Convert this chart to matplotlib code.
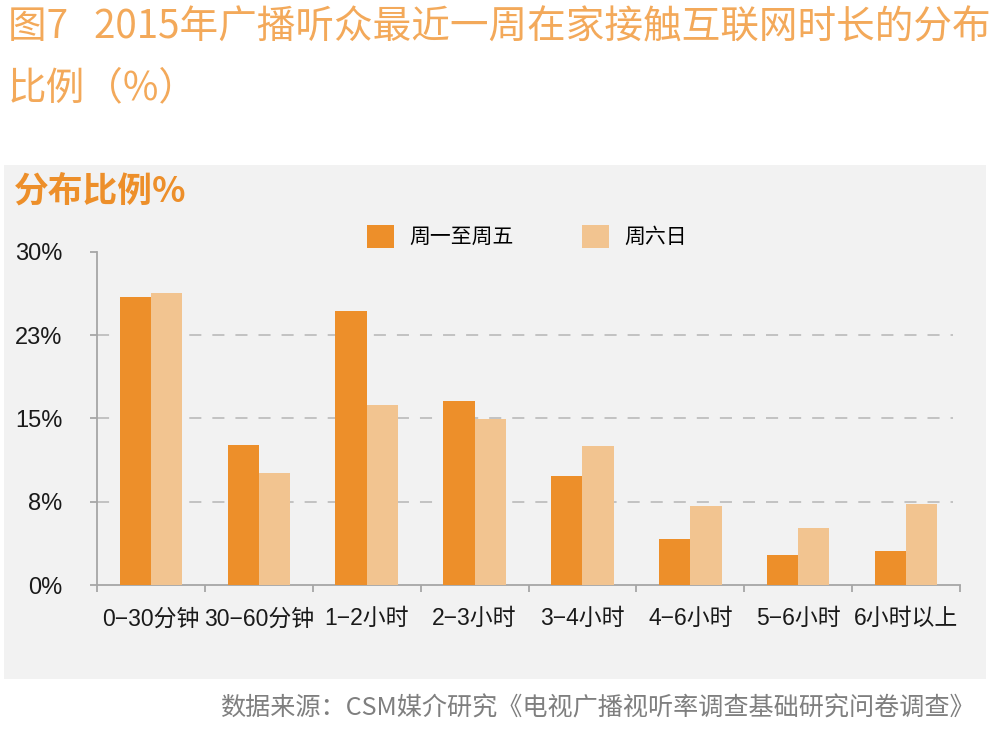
import matplotlib
matplotlib.use("Agg")
import matplotlib.pyplot as plt
from matplotlib.patches import Rectangle
import numpy as np

plt.rcParams['font.family'] = ['Liberation Sans', 'Noto Sans CJK SC', 'DejaVu Sans']

# ---- data ----
categories = ["0−30分钟", "30−60分钟", "1−2小时", "2−3小时", "3−4小时", "4−6小时", "5−6小时", "6小时以上"]
weekday = [25.9, 12.6, 24.7, 16.6, 9.8, 4.1, 2.7, 3.1]
weekend = [26.3, 10.1, 16.2, 14.9, 12.5, 7.1, 5.1, 7.3]
series_names = ["周一至周五", "周六日"]
ytick_values = [0, 7.5, 15, 22.5, 30]
ytick_labels = ["0%", "8%", "15%", "23%", "30%"]
main_title_1 = "图7   2015年广播听众最近一周在家接触互联网时长的分布"
main_title_2 = "比例（%）"
chart_title = "分布比例%"
source_text = "数据来源：CSM媒介研究《电视广播视听率调查基础研究问卷调查》"

C_DARK = "#ED8F2A"
C_LIGHT = "#F2C490"
C_AXIS = "#A6A6A6"
C_GRID = "#B5B5B5"
C_TITLE = "#F3A95A"
CJK = ["Noto Sans CJK SC", "DejaVu Sans"]

W, H = 993, 734
fig = plt.figure(figsize=(W / 100, H / 100), dpi=100)
fig.patch.set_facecolor("white")

# grey panel
fig.patches.append(Rectangle((4 / W, 1 - 679 / H), (986 - 4) / W, (679 - 165) / H,
                             transform=fig.transFigure, facecolor="#F2F2F2",
                             edgecolor="none", zorder=-10))

ax = fig.add_axes([97 / W, 1 - 585 / H, (960 - 97) / W, (585 - 251.7) / H])
ax.set_facecolor("none")
ax.set_zorder(2)

x = np.arange(len(categories))
bw = 0.29
b1 = ax.bar(x - bw / 2, weekday, bw, color=C_DARK, zorder=3, label=series_names[0])
b2 = ax.bar(x + bw / 2, weekend, bw, color=C_LIGHT, zorder=3, label=series_names[1])

ax.set_xlim(-0.5, len(categories) - 0.5)
ax.set_ylim(0, 30)

for t in ytick_values[1:-1]:
    ax.axhline(t, xmin=0, xmax=(953 - 97) / (960 - 97), color=C_GRID, lw=1.1,
               dashes=(7.9, 7.2), zorder=1)

for s in ["top", "right"]:
    ax.spines[s].set_visible(False)
for s in ["left", "bottom"]:
    ax.spines[s].set_color(C_AXIS)
    ax.spines[s].set_linewidth(1.3)

ax.set_yticks(ytick_values)
ax.set_yticklabels(ytick_labels)
ax.tick_params(axis="y", length=5, width=1.3, color=C_AXIS, pad=20, labelsize=17,
               labelcolor="#1a1a1a")

ax.set_xticks(x)
ax.set_xticklabels(categories)
ax.set_xticks(np.arange(-0.5, len(categories), 1), minor=True)
ax.tick_params(axis="x", which="major", length=0, pad=16, labelsize=16.5, labelcolor="#1a1a1a")
ax.tick_params(axis="x", which="minor", length=5, width=1.3, color=C_AXIS)

fig.legend(handles=[b1, b2], labels=series_names, loc="upper left",
           bbox_to_anchor=(367 / W, 1 - 225 / H), ncol=2, frameon=False,
           handlelength=1.3, handleheight=1.3, handletextpad=0.72,
           columnspacing=3.3, borderpad=0, borderaxespad=0,
           prop={"family": CJK, "size": 15})

fig.text(8 / W, 1 - 28 / H, main_title_1, fontsize=27.8, color=C_TITLE, va="center",
         ha="left", family=CJK, weight="light")
fig.text(8 / W, 1 - 88 / H, main_title_2, fontsize=27.8, color=C_TITLE, va="center",
         ha="left", family=CJK, weight="light")

fig.text(14 / W, 1 - 191 / H, chart_title, fontsize=25, color=C_DARK, va="center",
         ha="left", weight="bold", family=CJK)

fig.text(975 / W, 1 - 708 / H, source_text, fontsize=18.1, color="#7F7F7F",
         va="center", ha="right", family=CJK)

fig.savefig("out.png", dpi=100)
